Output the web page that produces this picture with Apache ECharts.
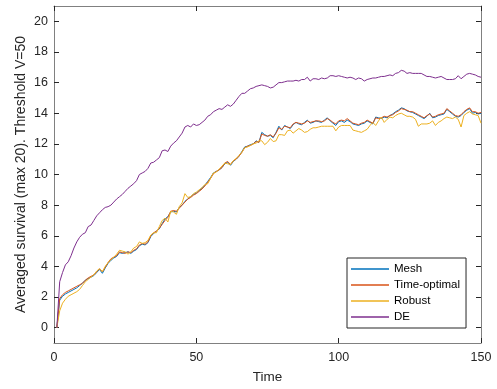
<!DOCTYPE html>
<html><head><meta charset="utf-8">
<script src="https://cdn.jsdelivr.net/npm/echarts@6/dist/echarts.min.js"></script>
<style>html,body{margin:0;padding:0;background:#fff}#c{width:497px;height:389px}</style>
</head><body><div id="c"></div>
<script>
const seriesNames = ["Mesh", "Time-optimal", "Robust", "DE"];
const colors = ["#0072BD", "#D95319", "#EDB120", "#7E2F8E"];
const xTicks = [0, 50, 100, 150];
const yTicks = [0, 2, 4, 6, 8, 10, 12, 14, 16, 18, 20];
const time = Array.from({length: 150}, (_, i) => i + 1);
const mesh = [0,1.8,2.05,2.2,2.3,2.4,2.5,2.6,2.75,2.9,3.1,3.2,3.3,3.4,3.6,3.8,3.55,3.9,4.2,4.4,
4.55,4.65,4.9,4.85,4.9,4.95,4.85,5.0,5.1,5.35,5.45,5.4,5.55,5.95,6.15,6.3,6.45,6.8,7.1,7.25,
7.55,7.6,7.55,7.85,8.0,8.25,8.4,8.55,8.7,8.8,8.95,9.1,9.3,9.55,9.8,10.1,10.2,10.3,10.45,10.7,
10.8,10.6,10.85,11.0,11.2,11.5,11.8,11.85,11.95,12.0,12.2,12.1,12.75,12.6,12.5,12.55,12.4,12.75,13.15,12.9,
13.2,13.1,13.0,13.25,13.4,13.3,13.25,13.4,13.55,13.35,13.4,13.5,13.45,13.4,13.55,13.7,13.5,13.35,13.2,13.45,
13.5,13.4,13.55,13.45,13.3,13.25,13.2,13.3,13.35,13.5,13.4,13.3,13.75,13.7,13.65,13.75,13.7,13.85,13.95,14.1,
14.2,14.35,14.3,14.15,14.1,14.05,13.95,13.85,13.75,13.65,13.8,14.0,13.7,13.75,13.85,13.9,13.95,14.25,14.1,13.95,
13.8,13.75,13.85,14.05,14.2,14.3,14.0,14.05,13.95,14.0];
const timeOptimal = [0,1.9,2.15,2.3,2.4,2.5,2.6,2.7,2.8,2.9,3.1,3.25,3.35,3.45,3.65,3.85,3.65,3.95,4.25,4.5,
4.6,4.7,4.95,4.9,4.85,4.95,4.9,5.05,5.15,5.4,5.5,5.45,5.6,6.0,6.2,6.3,6.5,6.75,7.0,7.2,
7.6,7.65,7.6,7.8,8.0,8.2,8.4,8.5,8.65,8.75,8.9,9.05,9.25,9.5,9.75,10.05,10.2,10.3,10.45,10.75,
10.85,10.65,10.9,11.0,11.2,11.45,11.75,11.85,11.9,12.0,12.15,12.1,12.65,12.55,12.5,12.6,12.45,12.7,13.05,12.95,
13.15,13.1,13.05,13.3,13.4,13.35,13.3,13.35,13.5,13.4,13.45,13.5,13.5,13.45,13.5,13.65,13.55,13.4,13.3,13.5,
13.55,13.5,13.65,13.5,13.35,13.3,13.25,13.35,13.4,13.55,13.45,13.35,13.7,13.65,13.7,13.8,13.75,13.85,13.9,14.05,
14.15,14.3,14.25,14.2,14.1,14.1,14.0,13.9,13.8,13.7,13.85,13.95,13.75,13.8,13.9,13.95,14.0,14.3,14.15,14.0,
13.85,13.8,13.9,14.1,14.25,14.35,14.1,14.1,14.0,14.05];
const robust = [0,1.1,1.6,1.85,2.05,2.15,2.25,2.35,2.5,2.75,3.0,3.15,3.3,3.45,3.7,3.85,3.65,4.0,4.25,4.45,
4.6,4.8,5.05,5.0,4.95,4.8,4.95,5.2,5.3,5.6,5.5,5.55,5.7,6.05,6.2,6.2,6.6,7.0,7.15,6.9,
7.6,7.55,7.4,7.9,8.15,8.75,8.5,8.55,8.75,8.85,9.0,9.15,9.35,9.4,9.75,10.1,10.15,10.35,10.55,10.75,
10.7,10.65,10.9,11.05,11.25,11.45,11.75,11.8,11.9,12.0,12.05,12.2,12.2,11.95,12.1,12.35,12.15,12.2,12.6,12.6,
12.55,12.85,12.9,12.7,12.85,13.0,12.9,12.75,12.8,12.95,13.05,13.05,13.1,13.15,13.15,13.15,13.15,13.15,12.85,13.1,
13.2,13.2,13.2,13.2,12.9,12.85,12.8,12.75,12.85,12.95,13.2,13.4,13.2,13.5,13.75,13.4,13.6,13.75,13.7,13.85,
13.95,14.0,13.9,13.8,13.8,13.75,13.6,13.15,13.3,13.3,13.3,13.35,13.5,13.2,13.4,13.5,13.65,13.75,13.7,13.65,
13.75,13.6,13.1,13.85,14.0,14.1,13.95,13.9,13.85,13.35];
const de = [0,3.0,3.6,4.1,4.3,4.7,5.2,5.6,5.9,6.1,6.2,6.6,6.7,7.0,7.3,7.5,7.7,7.85,7.9,8.0,
8.2,8.4,8.55,8.7,8.9,9.1,9.25,9.4,9.6,10.0,10.1,10.2,10.4,10.75,10.8,10.95,11.1,11.55,11.6,11.5,
11.85,12.05,12.2,12.45,12.7,13.1,13.2,13.1,13.3,13.2,13.25,13.4,13.55,13.8,13.9,14.1,14.2,14.3,14.25,14.4,
14.55,14.45,14.6,14.85,15.1,15.3,15.3,15.45,15.6,15.65,15.75,15.8,15.85,15.8,15.75,15.65,15.7,15.85,16.0,16.0,
16.05,16.1,16.1,16.1,16.15,16.1,16.2,16.2,16.35,16.1,16.25,16.25,16.2,16.3,16.25,16.3,16.45,16.45,16.4,16.45,
16.4,16.35,16.3,16.35,16.3,16.2,16.3,16.25,16.1,16.2,16.25,16.3,16.3,16.35,16.4,16.4,16.45,16.5,16.45,16.6,
16.65,16.8,16.75,16.6,16.65,16.6,16.6,16.6,16.6,16.5,16.4,16.4,16.35,16.3,16.35,16.4,16.3,16.2,16.2,16.2,
16.25,16.45,16.25,16.4,16.55,16.6,16.55,16.5,16.4,16.35];
const allData = [mesh, timeOptimal, robust, de];

const font = 'Liberation Sans, Arial, Helvetica, sans-serif';
const axisCol = '#262626';
const lineCol = '#808080';
const chart = echarts.init(document.getElementById('c'), null, {renderer: 'canvas'});
const baseX = {
  type: 'value', min: 0, max: 150, interval: 50,
  axisLine: {show: true, onZero: false, lineStyle: {color: lineCol, width: 1}},
  axisTick: {show: true, inside: true, length: 5, lineStyle: {color: axisCol}},
  splitLine: {show: false}
};
const baseY = {
  type: 'value', min: -1, max: 21,
  axisLine: {show: true, onZero: false, lineStyle: {color: lineCol, width: 1}},
  axisTick: {show: true, inside: true, length: 5, customValues: yTicks, lineStyle: {color: axisCol}},
  splitLine: {show: false}
};
chart.setOption({
  animation: false,
  backgroundColor: '#fff',
  grid: {left: 54, right: 16, top: 6, bottom: 46, containLabel: false},
  xAxis: [
    Object.assign({}, baseX, {position: 'bottom', name: 'Time', nameLocation: 'middle', nameGap: 27,
      nameMoveOverlap: false,
      nameTextStyle: {color: axisCol, fontFamily: font, fontSize: 13.5},
      axisLabel: {show: true, customValues: xTicks, color: axisCol, fontFamily: font, fontSize: 12.5, margin: 8}}),
    Object.assign({}, baseX, {position: 'top', axisLabel: {show: false}})
  ],
  yAxis: [
    Object.assign({}, baseY, {position: 'left', name: 'Averaged survival (max 20). Threshold V=50',
      nameLocation: 'middle', nameGap: 26, nameMoveOverlap: false,
      nameTextStyle: {color: axisCol, fontFamily: font, fontSize: 14},
      axisLabel: {show: true, customValues: yTicks, color: axisCol, fontFamily: font, fontSize: 12.5, margin: 6}}),
    Object.assign({}, baseY, {position: 'right', axisLabel: {show: false}})
  ],
  legend: {
    orient: 'vertical', left: 347, top: 258,
    backgroundColor: '#fff', borderColor: '#262626', borderWidth: 1,
    padding: [5, 6, 5, 4], itemWidth: 38, itemHeight: 1.5, itemGap: 4,
    icon: 'rect',
    textStyle: {color: '#000', fontFamily: font, fontSize: 11.5},
    data: seriesNames
  },
  series: seriesNames.map((n, k) => ({
    name: n, type: 'line', xAxisIndex: 0, yAxisIndex: 0,
    data: time.map((t, i) => [t, allData[k][i]]),
    symbol: 'none', smooth: false,
    lineStyle: {color: colors[k], width: 1}, itemStyle: {color: colors[k]}
  }))
});
</script></body></html>
